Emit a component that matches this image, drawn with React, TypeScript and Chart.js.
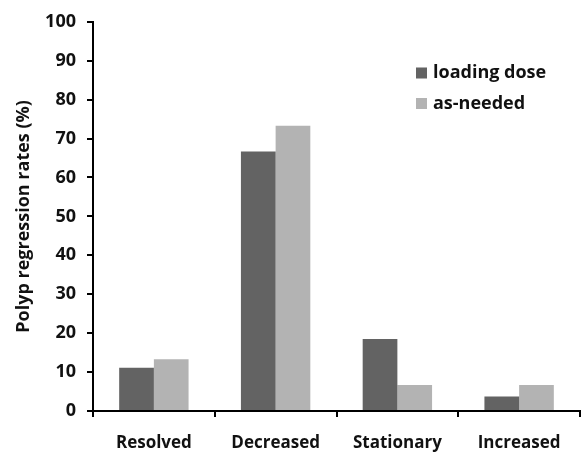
import React, { useEffect, useRef } from "react";
import { Chart, registerables } from "chart.js";

Chart.register(...registerables);

const categories = ["Resolved", "Decreased", "Stationary", "Increased"];
const loadingDose = [11.1, 66.7, 18.5, 3.7];
const asNeeded = [13.3, 73.3, 6.7, 6.7];
const seriesLabels = ["loading dose", "as-needed"];
const seriesColors = ["#636363", "#b3b3b3"];
const yTitle = "Polyp regression rates (%)";

const FONT = "'Open Sans', 'Noto Sans', sans-serif";

const legendPlugin = {
  id: "innerLegend",
  afterDraw(chart: any) {
    const ctx = chart.ctx;
    ctx.save();
    ctx.font = `bold 18px ${FONT}`;
    ctx.textBaseline = "middle";
    chart.data.datasets.forEach((ds: any, i: number) => {
      const y = 73 + i * 30.5;
      ctx.fillStyle = ds.backgroundColor;
      ctx.fillRect(416, y - 5.5, 11, 11);
      ctx.fillStyle = "#111";
      ctx.fillText(ds.label, 433, y);
    });
    ctx.restore();
  },
};

export default function App() {
  const ref = useRef<HTMLCanvasElement>(null);
  useEffect(() => {
    if (!ref.current) return;
    const chart = new Chart(ref.current, {
      type: "bar",
      data: {
        labels: categories,
        datasets: [
          { label: seriesLabels[0], data: loadingDose, backgroundColor: seriesColors[0] },
          { label: seriesLabels[1], data: asNeeded, backgroundColor: seriesColors[1] },
        ],
      },
      options: {
        animation: false,
        responsive: false,
        maintainAspectRatio: false,
        layout: { padding: { top: 17, right: 4, left: 0, bottom: 0 } },
        datasets: { bar: { categoryPercentage: 0.57, barPercentage: 1 } } as any,
        plugins: { legend: { display: false }, tooltip: { enabled: false } },
        scales: {
          x: {
            grid: {
              display: true,
              drawOnChartArea: false,
              drawTicks: true,
              tickLength: 6,
              color: "#000",
              lineWidth: 2,
            },
            border: { color: "#000", width: 2 },
            ticks: {
              color: "#111",
              font: { family: FONT, size: 17, weight: "bold" },
              padding: 16,
            },
            afterFit(scale: any) {
              scale.height = 43;
            },
          },
          y: {
            min: 0,
            max: 100,
            grid: {
              display: true,
              drawOnChartArea: false,
              drawTicks: true,
              tickLength: 6,
              color: "#000",
              lineWidth: 2,
            },
            border: { color: "#000", width: 2 },
            ticks: {
              stepSize: 10,
              color: "#111",
              font: { family: FONT, size: 18, weight: "bold" },
              padding: 11,
            },
            title: {
              display: true,
              text: yTitle,
              color: "#111",
              font: { family: FONT, size: 18, weight: "bold" },
              padding: { top: 13, bottom: 0 },
            },
            afterFit(scale: any) {
              scale.width = 93;
            },
          },
        },
      },
      plugins: [legendPlugin],
    });
    return () => chart.destroy();
  }, []);
  return (
    <div style={{ position: "absolute", left: 0, top: 0, width: 584, height: 454, background: "#fff" }}>
      <canvas ref={ref} width={584} height={454} style={{ width: 584, height: 454 }} />
    </div>
  );
}
